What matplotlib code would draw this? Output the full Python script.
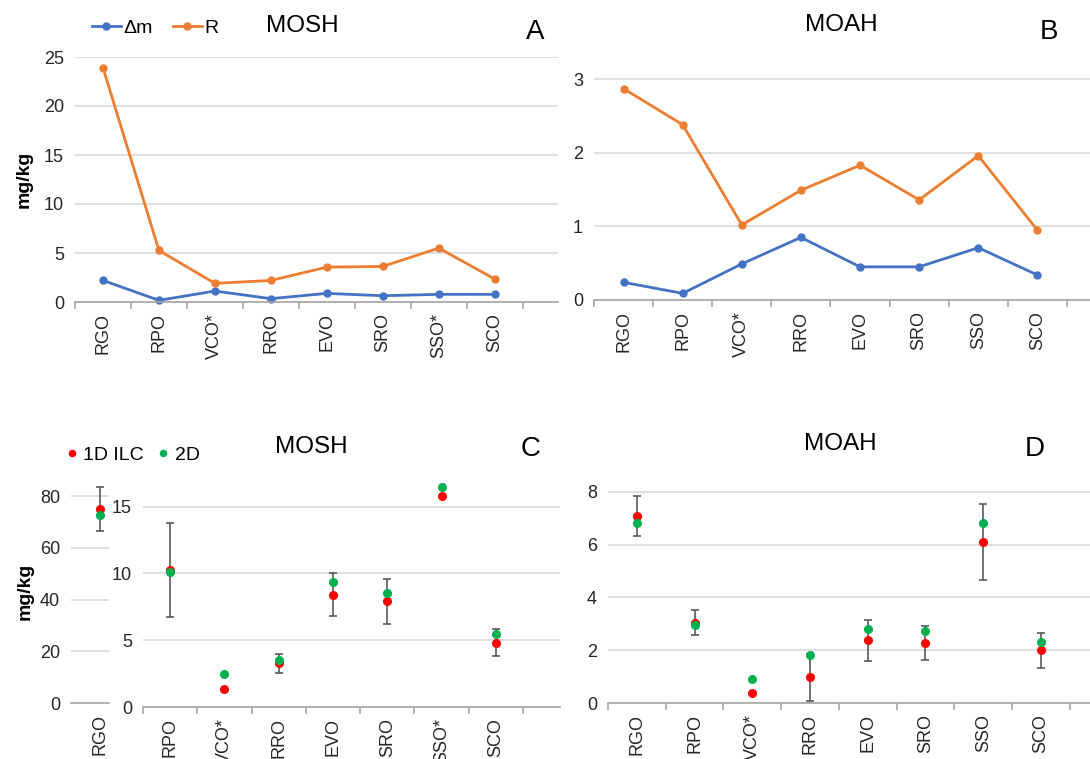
import matplotlib
matplotlib.use("Agg")
import matplotlib.pyplot as plt
import numpy as np

plt.rcParams["font.family"] = ["Liberation Sans", "DejaVu Sans"]

# panel A / B data (MOSH, MOAH)
cats_a = ["RGO", "RPO", "VCO*", "RRO", "EVO", "SRO", "SSO*", "SCO"]
cats_b = ["RGO", "RPO", "VCO*", "RRO", "EVO", "SRO", "SSO", "SCO"]
dm_mosh = [2.2, 0.17, 1.12, 0.34, 0.88, 0.64, 0.78, 0.78]
r_mosh = [23.9, 5.26, 1.9, 2.2, 3.56, 3.63, 5.5, 2.34]
dm_moah = [0.24, 0.09, 0.49, 0.85, 0.45, 0.45, 0.71, 0.34]
r_moah = [2.87, 2.38, 1.02, 1.49, 1.83, 1.36, 1.96, 0.95]

# panel C data (MOSH, RGO on its own scale)
cats_c = ["RPO", "VCO*", "RRO", "EVO", "SRO", "SSO*", "SCO"]
ilc_rgo = 75.0
d2_rgo = 72.6
err_rgo = 8.4
ilc_mosh = [10.25, 1.37, 3.26, 8.42, 7.92, 15.8, 4.81]
d2_mosh = [10.09, 2.44, 3.51, 9.34, 8.57, 16.47, 5.46]
err_mosh = [3.5, np.nan, 0.71, 1.63, 1.68, np.nan, 1.0]

# panel D data (MOAH)
cats_d = ["RGO", "RPO", "VCO*", "RRO", "EVO", "SRO", "SSO", "SCO"]
ilc_moah = [7.08, 3.05, 0.39, 0.97, 2.37, 2.27, 6.10, 1.99]
d2_moah = [6.81, 2.95, 0.90, 1.82, 2.81, 2.73, 6.81, 2.32]
err_moah = [0.75, 0.47, np.nan, 0.9, 0.79, 0.65, 1.45, 0.66]

BLUE = "#4472C4"
ORANGE = "#ED7D31"
RED = "#FF0000"
GREEN = "#00B050"
GRID = "#D9D9D9"
AXC = "#A6A6A6"
TXT = "#262626"
TICKFS = 13
TITLEFS = 17.5

W, H = 1090, 759
fig = plt.figure(figsize=(W / 100, H / 100), dpi=100)


def box(l, r, b, t):
    # pixel box -> figure fraction
    return [l / W, 1 - b / H, (r - l) / W, (b - t) / H]


def style(ax, cats, xmax, yticks, ylim):
    n = len(cats)
    ax.set_xlim(-0.5, xmax)
    ax.set_ylim(*ylim)
    ax.set_yticks(yticks)
    ax.yaxis.grid(True, color=GRID, lw=1.2)
    ax.set_axisbelow(True)
    for s in ["top", "right", "left"]:
        ax.spines[s].set_visible(False)
    ax.spines["bottom"].set_color(AXC)
    ax.spines["bottom"].set_linewidth(1.2)
    ax.set_xticks(range(n))
    ax.set_xticklabels(cats, rotation=90, fontsize=TICKFS, color=TXT)
    ax.set_xticks(np.arange(-0.5, n, 1.0), minor=True)
    ax.tick_params(axis="x", which="major", length=0, pad=8)
    ax.tick_params(axis="x", which="minor", length=5, color=AXC, width=1.2)
    ax.tick_params(axis="y", length=0, labelsize=TICKFS, labelcolor=TXT, pad=8)


# ---- A ----
axA = fig.add_axes(box(75, 558, 302, 57))
x = np.arange(len(cats_a))
axA.plot(x, dm_mosh, "-o", color=BLUE, lw=2, ms=5, label="Δm", clip_on=False)
axA.plot(x, r_mosh, "-o", color=ORANGE, lw=2, ms=5, label="R", clip_on=False)
style(axA, cats_a, 8.13, [0, 5, 10, 15, 20, 25], (0, 25))
axA.set_ylabel("mg/kg", fontsize=14, fontweight="bold", labelpad=8)
axA.legend(loc="center left", bbox_to_anchor=(84 / W, 1 - 28 / H),
           bbox_transform=fig.transFigure, ncol=2, frameon=False,
           fontsize=14, handlelength=1.5, handletextpad=0.15,
           columnspacing=1.0, borderaxespad=0)
fig.text(302 / W, 1 - 26 / H, "MOSH", fontsize=TITLEFS, ha="center", va="center")
fig.text(535 / W, 1 - 32 / H, "A", fontsize=20, ha="center", va="center")

# ---- B ----
axB = fig.add_axes(box(594, 1090, 300, 57))
x = np.arange(len(cats_b))
axB.plot(x, dm_moah, "-o", color=BLUE, lw=2, ms=5, clip_on=False)
axB.plot(x, r_moah, "-o", color=ORANGE, lw=2, ms=5, clip_on=False)
style(axB, cats_b, 7.89, [0, 1, 2, 3], (0, 3.3))
fig.text(841 / W, 1 - 25 / H, "MOAH", fontsize=TITLEFS, ha="center", va="center")
fig.text(1049 / W, 1 - 32 / H, "B", fontsize=20, ha="center", va="center")

# ---- C (left: RGO, right: the rest) ----
ebkw = dict(fmt="none", ecolor="#595959", elinewidth=1.2, capsize=3, capthick=1.2)
axC1 = fig.add_axes(box(71, 109, 703, 480))
axC1.errorbar([0], [ilc_rgo], yerr=[err_rgo], **ebkw)
axC1.plot([0], [ilc_rgo], "o", color=RED, ms=5.5)
axC1.plot([0], [d2_rgo], "o", color=GREEN, ms=5.5)
style(axC1, ["RGO"], 0.5, [0, 20, 40, 60, 80], (0, 86.3))
axC1.set_xlim(-1.2, 0.35)
axC1.set_xticks([0])
axC1.set_xticklabels(["RGO"], rotation=90, fontsize=TICKFS, color=TXT)
axC1.set_xticks([], minor=True)
axC1.tick_params(axis="x", which="major", length=0, pad=8)
axC1.set_ylabel("mg/kg", fontsize=14, fontweight="bold", labelpad=4)

axC2 = fig.add_axes(box(143, 560, 707, 480))
x = np.arange(len(cats_c))
axC2.errorbar(x, ilc_mosh, yerr=err_mosh, **ebkw)
axC2.plot(x, ilc_mosh, "o", color=RED, ms=5.5, ls="none", label="1D ILC", clip_on=False)
axC2.plot(x, d2_mosh, "o", color=GREEN, ms=5.5, ls="none", label="2D", clip_on=False)
style(axC2, cats_c, 7.18, [0, 5, 10, 15], (0, 17.0))
axC2.legend(loc="center left", bbox_to_anchor=(58 / W, 1 - 455 / H),
            bbox_transform=fig.transFigure, ncol=2, frameon=False,
            fontsize=14, handlelength=0.6, handletextpad=0.3,
            columnspacing=0.7, borderaxespad=0, markerscale=0.8)
fig.text(311 / W, 1 - 447 / H, "MOSH", fontsize=TITLEFS, ha="center", va="center")
fig.text(531 / W, 1 - 449 / H, "C", fontsize=20, ha="center", va="center")

# ---- D ----
axD = fig.add_axes(box(608, 1090, 703, 480))
x = np.arange(len(cats_d))
axD.errorbar(x, ilc_moah, yerr=err_moah, **ebkw)
axD.plot(x, ilc_moah, "o", color=RED, ms=5.5, ls="none", clip_on=False)
axD.plot(x, d2_moah, "o", color=GREEN, ms=5.5, ls="none", clip_on=False)
style(axD, cats_d, 7.85, [0, 2, 4, 6, 8], (0, 8.45))
fig.text(840 / W, 1 - 444 / H, "MOAH", fontsize=TITLEFS, ha="center", va="center")
fig.text(1035 / W, 1 - 449 / H, "D", fontsize=20, ha="center", va="center")

fig.savefig("out.png", dpi=100)
